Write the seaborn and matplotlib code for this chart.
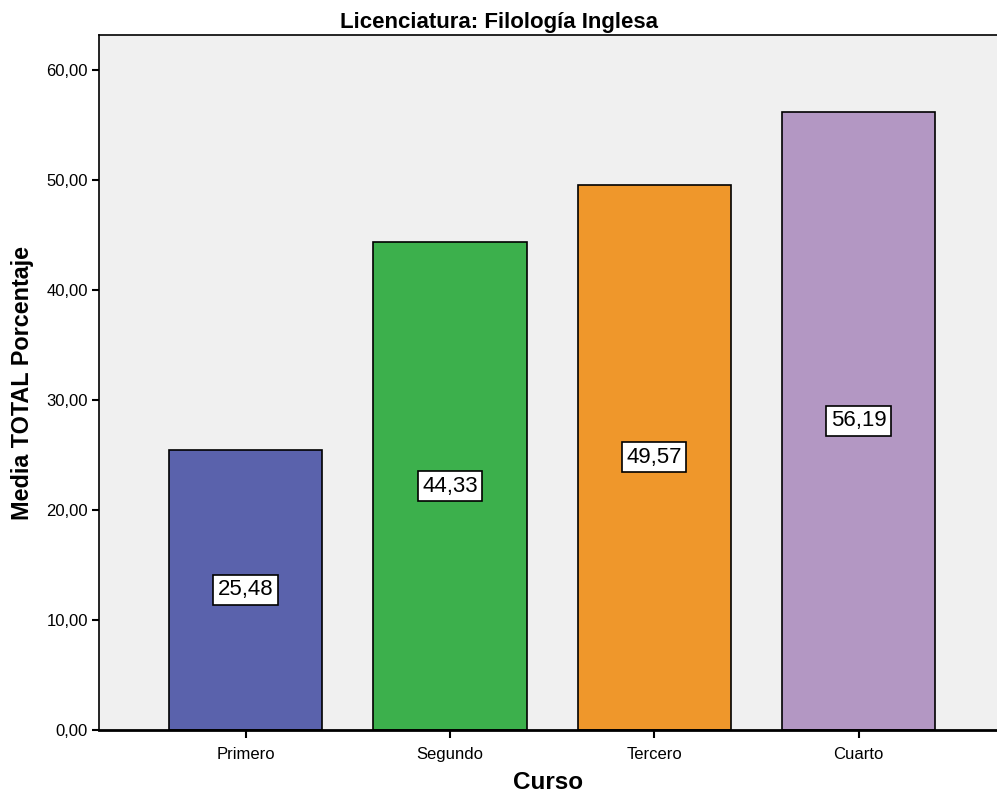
import matplotlib
matplotlib.use("Agg")
import matplotlib.pyplot as plt
import seaborn as sns
import pandas as pd

cursos = ["Primero", "Segundo", "Tercero", "Cuarto"]
medias = [25.48, 44.33, 49.57, 56.19]
colores = ["#5A62AC", "#3CB04C", "#EF972B", "#B397C3"]
yticks = [0, 10, 20, 30, 40, 50, 60]

sns.set_theme(style="white")
plt.rcParams["font.family"] = ["Liberation Sans", "DejaVu Sans"]
plt.rcParams["text.color"] = "black"
plt.rcParams["axes.labelcolor"] = "black"

df = pd.DataFrame({"Curso": cursos, "Media": medias})

fig = plt.figure(figsize=(9.97, 7.98), dpi=100)
ax = fig.add_axes([0.0993, 0.0852, 0.9007, 0.8709])
ax.set_facecolor("#F0F0F0")

sns.barplot(data=df, x="Curso", y="Media", hue="Curso", palette=colores,
            width=0.75, edgecolor="black", linewidth=1.2, legend=False,
            saturation=1, ax=ax)

ax.set_xlim(-0.717, 3.677)
ax.set_ylim(0, 63.18)
ax.set_yticks(yticks)
ax.set_yticklabels([f"{v:.2f}".replace(".", ",") for v in yticks], fontsize=12)
ax.tick_params(axis="x", labelsize=12, length=6, width=1.5, direction="out", pad=6,
               colors="black", labelcolor="black")
ax.tick_params(axis="y", length=5, width=1.5, direction="out", pad=3,
               colors="black", labelcolor="black")
ax.tick_params(bottom=True, left=True)

for side in ["left", "top", "bottom"]:
    ax.spines[side].set_visible(True)
    ax.spines[side].set_color("black")
ax.spines["left"].set_linewidth(1.2)
ax.spines["top"].set_linewidth(1.2)
ax.spines["bottom"].set_linewidth(2)
ax.spines["right"].set_visible(False)

for i, v in enumerate(medias):
    ax.text(i, v / 2, f"{v:.2f}".replace(".", ","), ha="center", va="center",
            fontsize=16, color="black",
            bbox=dict(boxstyle="square,pad=0.2", facecolor="white", edgecolor="black", linewidth=1.2))

ax.set_xlabel("Curso", fontsize=17.5, fontweight="bold", labelpad=7, color="black")
ax.set_ylabel("Media TOTAL Porcentaje", fontsize=16.8, fontweight="bold", labelpad=9, color="black")
fig.text(0.5, 0.972, "Licenciatura: Filología Inglesa", ha="center", va="center",
         fontsize=16, fontweight="bold", color="black")

fig.savefig("out.png", dpi=100)
